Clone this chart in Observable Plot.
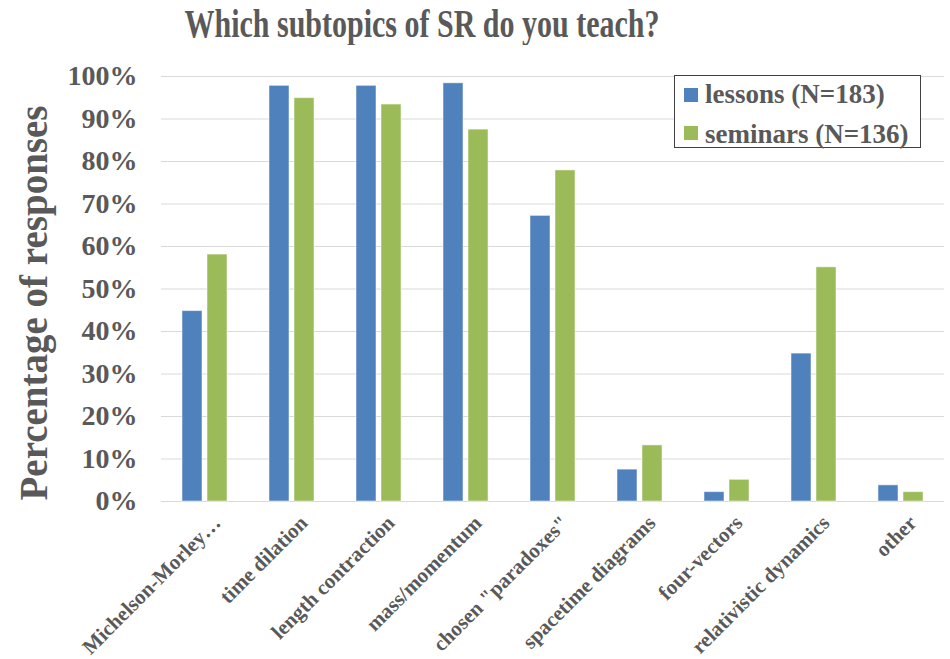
<!DOCTYPE html>
<html>
<head>
<meta charset="utf-8">
<script src="https://cdn.jsdelivr.net/npm/d3@7"></script>
<script src="https://cdn.jsdelivr.net/npm/@observablehq/plot@0.6"></script>
<style>
  body { margin: 0; background: #fff; }
  #wrap { position: relative; width: 950px; height: 659px; font-family: "Liberation Serif", "Times New Roman", Times, serif; }
  #title { width: 844px; height: 45px; line-height: 45px; text-align: center; font-size: 30px; font-weight: bold; color: #595959; transform: scaleY(1.35); transform-origin: 50% 50%; }
  #legend { position: absolute; left: 674px; top: 75px; width: 245px; height: 71px; border: 1px solid #404040; background: #fff; }
  .lab { position: absolute; left: 30px; height: 30px; line-height: 30px; font-size: 27px; font-weight: bold; color: #595959; white-space: nowrap; }
  .sw { position: absolute; left: 9px; width: 14px; height: 14px; }
</style>
</head>
<body>
<div id="wrap">
  <div id="title">Which subtopics of SR do you teach?</div>
  <div id="chart"></div>
  <div id="legend"></div>
</div>
<script>
const categories = ["Michelson-Morley…", "time dilation", "length contraction", "mass/momentum", "chosen \"paradoxes\"", "spacetime diagrams", "four-vectors", "relativistic dynamics", "other"];
const seriesNames = ["lessons (N=183)", "seminars (N=136)"];
const lessons = [44.8, 97.8, 97.8, 98.4, 67.2, 7.5, 2.2, 34.8, 3.8];
const seminars = [58.1, 94.9, 93.4, 87.5, 77.9, 13.2, 5.1, 55.1, 2.2];
const yTicks = [0, 10, 20, 30, 40, 50, 60, 70, 80, 90, 100];
const colors = ["#4F81BD", "#9BBB59"];

const data = [];
categories.forEach((c, i) => {
  data.push({cat: c, series: seriesNames[0], value: lessons[i]});
  data.push({cat: c, series: seriesNames[1], value: seminars[i]});
});

const font = "'Liberation Serif', 'Times New Roman', Times, serif";
const textColor = "#595959";

const chart = Plot.plot({
  width: 950,
  height: 614,
  marginTop: 31,
  marginBottom: 158,
  marginLeft: 157,
  marginRight: 2,
  style: {fontFamily: font, background: "#fff", color: textColor},
  fx: {domain: categories, padding: 0, label: null},
  x: {domain: seriesNames, paddingInner: 0.2, paddingOuter: 0.82, axis: null},
  y: {domain: [0, 100], label: null},
  color: {domain: seriesNames, range: colors},
  marks: [
    Plot.gridY(yTicks, {stroke: "#d9d9d9", strokeOpacity: 1, strokeWidth: 1}),
    Plot.barY(data, {fx: "cat", x: "series", y: "value", fill: "series", stroke: "#ffffff", strokeOpacity: 0.5, strokeWidth: 1}),
    Plot.axisY(yTicks, {tickSize: 0, tickPadding: 24, tickFormat: d => d + "%", fontSize: 28, fontWeight: "bold", fill: textColor, label: null}),
    Plot.axisFx({anchor: "bottom", tickSize: 0, tickRotate: -45, tickPadding: 18, fontSize: 21, fontWeight: "bold", fill: textColor, label: null, dx: 12}),
    Plot.text(["Percentage of responses"], {fx: [categories[0]], frameAnchor: "left", textAnchor: "middle", rotate: -90, dx: -127, dy: 14, fontSize: 39, fontWeight: "bold", fill: textColor, text: d => d})
  ]
});
document.getElementById("chart").appendChild(chart);

const legend = document.getElementById("legend");
const swatchTops = [12, 50];
const labelTops = [3, 43];
seriesNames.forEach((s, i) => {
  const sw = document.createElement("div");
  sw.className = "sw";
  sw.style.top = swatchTops[i] + "px";
  sw.style.background = colors[i];
  legend.appendChild(sw);
  const lab = document.createElement("div");
  lab.className = "lab";
  lab.style.top = labelTops[i] + "px";
  lab.textContent = s;
  legend.appendChild(lab);
});
</script>
</body>
</html>
